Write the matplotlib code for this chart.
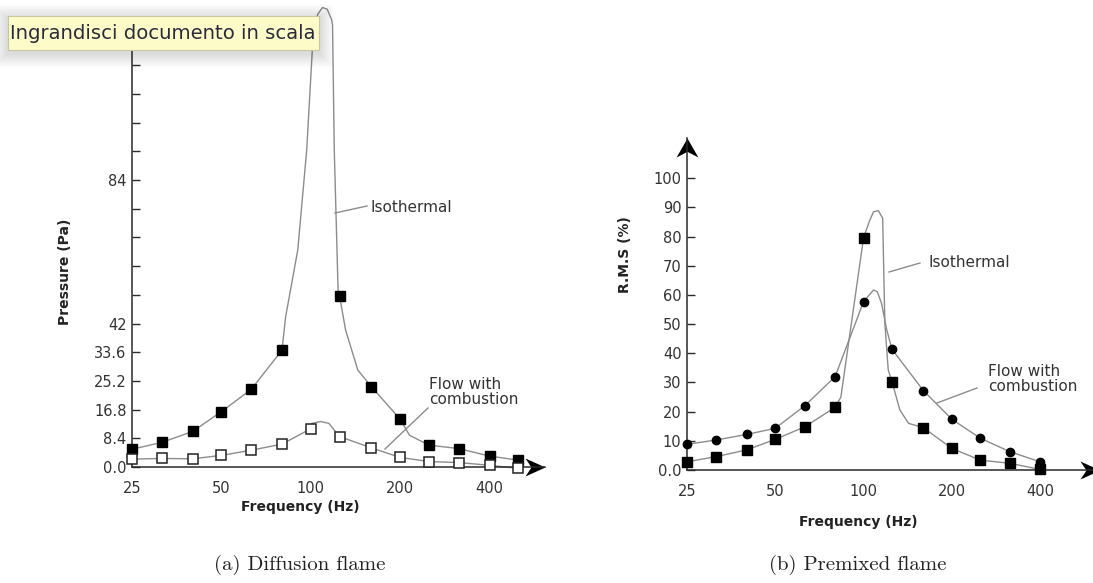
import matplotlib.pyplot as plt
from matplotlib.path import Path
from matplotlib.patches import Rectangle
from matplotlib.lines import Line2D
from matplotlib.ticker import FixedLocator, NullFormatter

W, H = 1093, 583

# 1/3 octave band centres (Hz)
bands = [25, 31.5, 40, 50, 63, 80, 100, 125, 160, 200, 250, 315, 400, 500]
xtick_vals = [25, 50, 100, 200, 400]

# (a) diffusion flame, pressure (Pa)
diff_iso_f = [25, 31.5, 40, 50, 63, 80, 125, 160, 200, 250, 315, 400, 500]
diff_iso_p = [5.2, 7.2, 10.4, 16.2, 22.7, 34.2, 50.1, 23.5, 14.0, 6.4, 5.4, 3.2, 2.0]
diff_comb_f = bands
diff_comb_p = [2.3, 2.5, 2.4, 3.4, 4.9, 6.7, 11.2, 8.9, 5.6, 2.8, 1.6, 1.3, 0.5, -0.4]

# traced curves through the points
diff_iso_line_f = [25, 31.5, 40, 50, 63, 80, 82.3, 90.4, 96.9, 101.5, 105.5, 109.5, 113.6,
                   117.5, 118.4, 120, 123.6, 125, 131, 144, 160, 200, 215, 250, 315, 400, 500]
diff_iso_line_p = [5.2, 7.2, 10.4, 16.2, 22.7, 34.2, 44.0, 63.5, 92.8, 124, 132.5, 134.5, 134,
                   131, 129.4, 92.8, 51.8, 50.1, 40.1, 28.4, 23.5, 14.0, 9.3, 6.4, 5.4, 3.2, 2.0]
diff_comb_line_f = [25, 31.5, 40, 50, 63, 80, 100, 101, 107.8, 115, 121.3, 125,
                    160, 200, 250, 315, 400, 500]
diff_comb_line_p = [2.3, 2.5, 2.4, 3.4, 4.9, 6.7, 11.2, 12.8, 13.3, 12.8, 10.3, 8.9,
                    5.6, 2.8, 1.6, 1.3, 0.5, -0.4]

diff_yticks = [0, 8.4, 16.8, 25.2, 33.6, 42, 84]
diff_ylabels = ['0.0', '8.4', '16.8', '25.2', '33.6', '42', '84']
diff_yminor = [50.4, 58.8, 67.2, 75.6, 92.4, 100.8, 109.2, 117.6]

# (b) premixed flame, R.M.S (%)
prem_f = bands[:13]
prem_iso = [2.8, 4.6, 6.9, 10.5, 14.8, 21.5, 79.6, 30.3, 14.5, 7.4, 3.4, 2.3, 0.2]
prem_comb = [8.8, 10.3, 12.2, 14.3, 22.0, 32.0, 57.7, 41.4, 27.2, 17.4, 10.9, 6.3, 2.8]

prem_iso_line_f = [25, 31.5, 40, 50, 63, 80, 83.7, 100, 104.7, 108.1, 112.3, 116.2, 118.2,
                   121.4, 125, 133, 142.3, 160, 200, 250, 315, 400]
prem_iso_line_v = [2.8, 4.6, 6.9, 10.5, 14.8, 21.5, 25.0, 79.6, 85.3, 88.5, 88.9, 86.3, 50.3,
                   34.3, 30.3, 20.6, 16.0, 14.5, 7.4, 3.4, 2.3, 0.2]
prem_comb_line_f = [25, 31.5, 40, 50, 63, 80, 100, 108.1, 111.4, 115.2, 120, 125,
                    160, 200, 250, 315, 400]
prem_comb_line_v = [8.8, 10.3, 12.2, 14.3, 22.0, 32.0, 57.7, 61.7, 61.1, 57.1, 48.0, 41.4,
                    27.2, 17.4, 10.9, 6.3, 2.8]

prem_yticks = [0, 10, 20, 30, 40, 50, 60, 70, 80, 90, 100]
prem_ylabels = ['0.0', '10', '20', '30', '40', '50', '60', '70', '80', '90', '100']

LINE = '#8c8c8c'
AX = '#2a2a2a'


def fx(x):
    return x / W


def fy(y):
    return 1 - y / H


# arrow head markers (tip at the origin)
arrow_right = Path([(0, 0), (-2, 0.9), (-1.4, 0), (-2, -0.9), (0, 0)],
                   [Path.MOVETO, Path.LINETO, Path.LINETO, Path.LINETO, Path.CLOSEPOLY])
arrow_up = Path([(0, 0), (-1.15, -2), (0, -1.4), (1.15, -2), (0, 0)],
                [Path.MOVETO, Path.LINETO, Path.LINETO, Path.LINETO, Path.CLOSEPOLY])

fig = plt.figure(figsize=(W / 100, H / 100), dpi=100)
fig.patch.set_facecolor('white')


def style_axes(ax):
    ax.set_xscale('log')
    for s in ['top', 'right']:
        ax.spines[s].set_visible(False)
    for s in ['left', 'bottom']:
        ax.spines[s].set_color(AX)
        ax.spines[s].set_linewidth(1.1)
    ax.xaxis.set_major_locator(FixedLocator(xtick_vals))
    ax.xaxis.set_minor_locator(FixedLocator([]))
    ax.set_xticklabels([str(v) for v in xtick_vals])
    ax.tick_params(axis='x', length=0, pad=10, labelsize=10.5, labelcolor='#333333')
    ax.tick_params(axis='y', which='both', direction='in', length=6, width=1,
                   color=AX, pad=4, labelsize=10.5, labelcolor='#333333')
    ax.patch.set_alpha(0)


# ---- (a) diffusion flame
ax1 = fig.add_axes([fx(132), fy(467), fx(545) - fx(132), fy(0) - fy(467)])
style_axes(ax1)
ax1.set_xlim(25, 615)
ax1.set_ylim(0, 136.7)
ax1.spines['left'].set_bounds(0, 128)
ax1.yaxis.set_major_locator(FixedLocator(diff_yticks))
ax1.set_yticklabels(diff_ylabels)
ax1.yaxis.set_minor_locator(FixedLocator(diff_yminor))
ax1.yaxis.set_minor_formatter(NullFormatter())

ax1.plot(diff_iso_line_f, diff_iso_line_p, color=LINE, lw=1.0, clip_on=False)
ax1.plot(diff_comb_line_f, diff_comb_line_p, color=LINE, lw=1.0, clip_on=False)
ax1.plot(diff_iso_f, diff_iso_p, 's', color='black', ms=7.5, clip_on=False, zorder=3)
ax1.plot(diff_comb_f, diff_comb_p, 's', mfc='white', mec='#222222', mew=1.1, ms=7.2,
         clip_on=False, zorder=3)
ax1.plot([1.0], [0], marker=arrow_right, ms=28.8, color='black', mew=0,
         transform=ax1.transAxes, clip_on=False)

# ---- (b) premixed flame
ax2 = fig.add_axes([fx(687), fy(470), fx(1093) - fx(687), fy(138) - fy(470)])
style_axes(ax2)
ax2.set_xlim(25, 606)
ax2.set_ylim(0, 113.8)
ax2.yaxis.set_major_locator(FixedLocator(prem_yticks))
ax2.set_yticklabels(prem_ylabels)

ax2.plot(prem_iso_line_f, prem_iso_line_v, color=LINE, lw=1.0, clip_on=False)
ax2.plot(prem_comb_line_f, prem_comb_line_v, color=LINE, lw=1.0, clip_on=False)
ax2.plot(prem_f, prem_comb, 'o', color='black', ms=6, clip_on=False, zorder=3)
ax2.plot(prem_f, prem_iso, 's', color='black', ms=7.8, clip_on=False, zorder=3)
ax2.plot([1.017], [0], marker=arrow_right, ms=28.8, color='black', mew=0,
         transform=ax2.transAxes, clip_on=False)
ax2.plot([0], [1.0], marker=arrow_up, ms=27.4, color='black', mew=0,
         transform=ax2.transAxes, clip_on=False)

# ---- axis titles
lab = dict(fontsize=10, fontweight='bold', color='#222222', ha='center', va='center')
fig.text(fx(300), fy(507), 'Frequency (Hz)', **lab)
fig.text(fx(858), fy(522), 'Frequency (Hz)', **lab)
fig.text(fx(65), fy(272), 'Pressure (Pa)', rotation=90, **lab)
fig.text(fx(625), fy(255), 'R.M.S (%)', rotation=90, **lab)

# ---- curve labels with leader lines
ann = dict(fontsize=11, color='#333333', ha='left', va='center')
fig.text(fx(370), fy(207), 'Isothermal', **ann)
fig.text(fx(429), fy(392), 'Flow with\ncombustion', linespacing=1.05, **ann)
fig.text(fx(928), fy(262), 'Isothermal', **ann)
fig.text(fx(988), fy(379), 'Flow with\ncombustion', linespacing=1.05, **ann)
for (x0, y0, x1, y1) in [(335, 213, 367, 206), (385, 449, 428, 408),
                         (889, 272, 920, 263), (937, 403, 977, 388)]:
    fig.add_artist(Line2D([fx(x0), fx(x1)], [fy(y0), fy(y1)], color=LINE, lw=1.0,
                          transform=fig.transFigure))

# ---- captions
cap = dict(fontsize=15, family='cmr10', color='#222222', ha='center', va='center')
fig.text(fx(300), fy(565), '(a) Diffusion flame', **cap)
fig.text(fx(858), fy(565), '(b) Premixed flame', **cap)

# ---- tooltip overlay with soft shadow
for i in range(7):
    g = 2 + 2 * i
    fig.add_artist(Rectangle((fx(8 - g), fy(50 + g + 3)), (311 + 2 * g) / W, (34 + 2 * g) / H,
                             transform=fig.transFigure, facecolor='black', alpha=0.02,
                             edgecolor='none'))
fig.add_artist(Rectangle((fx(8), fy(50)), 311 / W, 34 / H, transform=fig.transFigure,
                         facecolor='#fdfcc9', edgecolor='#c9c7a0', lw=0.8))
fig.text(fx(10), fy(33.5), 'Ingrandisci documento in scala', fontsize=14.1,
         color='#2b2a3c', ha='left', va='center')

fig.savefig('out.png', dpi=100)
